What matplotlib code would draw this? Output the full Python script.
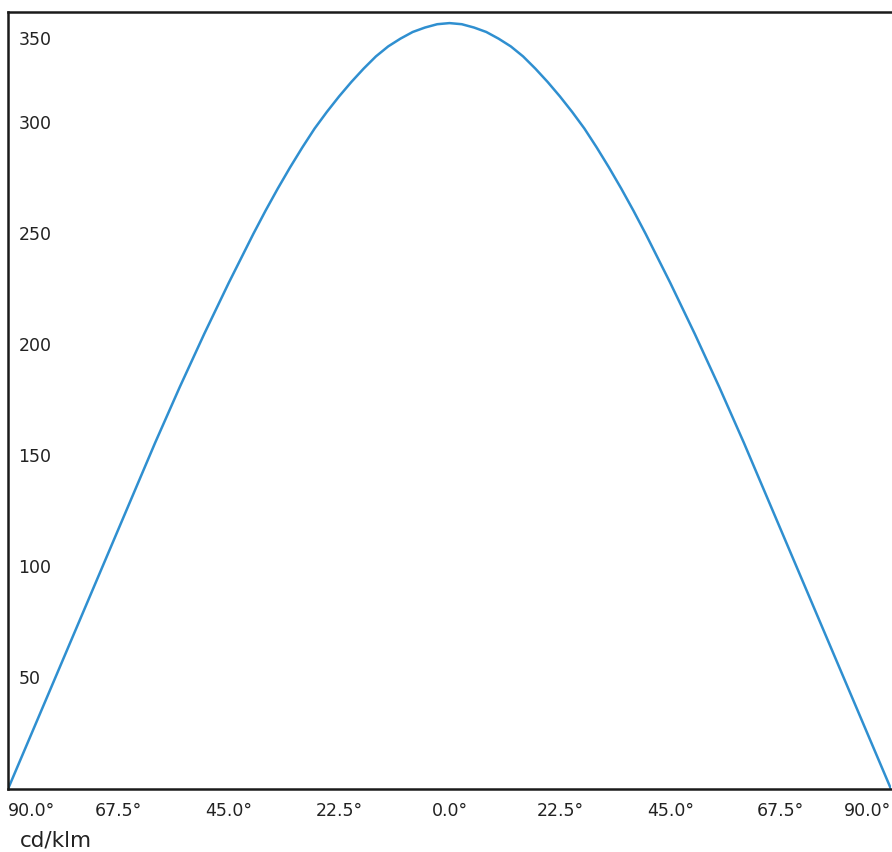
import matplotlib
matplotlib.use("Agg")
import matplotlib.pyplot as plt
from matplotlib import transforms

# luminous intensity every 2.5 deg, symmetric about 0 deg
half_angles = [90, 87.5, 85, 82.5, 80, 77.5, 75, 72.5, 70, 67.5, 65, 62.5, 60, 57.5, 55, 52.5,
               50, 47.5, 45, 42.5, 40, 37.5, 35, 32.5, 30, 27.5, 25, 22.5, 20, 17.5, 15, 12.5,
               10, 7.5, 5, 2.5]
half = [0, 13, 26, 39, 52, 65, 78, 91, 104, 117, 130, 143, 156, 168.5, 181, 193,
        205, 216.5, 228, 239, 250, 260.5, 270.5, 280, 289, 297.5, 305, 312, 318.5, 324.5, 330, 334.5,
        338, 341, 343, 344.5]
angles = [-a for a in half_angles] + [0] + half_angles[::-1]
intensity = half + [345] + half[::-1]

x_ticks = [-90, -67.5, -45, -22.5, 0, 22.5, 45, 67.5, 90]
x_labels = ["90.0°", "67.5°", "45.0°", "22.5°", "0.0°", "22.5°", "45.0°", "67.5°", "90.0°"]
y_ticks = [50, 100, 150, 200, 250, 300, 350]
unit_label = "cd/klm"

fig = plt.figure(figsize=(8.92, 8.53), dpi=100)
ax = fig.add_axes([8 / 892, 63 / 853, 883 / 892, 777 / 853])

ax.plot(angles, intensity, color="#2f8fd0", linewidth=1.8)
ax.set_xlim(-90, 90)
ax.set_ylim(0, 350)

ax.set_xticks(x_ticks)
ax.set_xticklabels(x_labels, fontsize=12.5, color="#222222")
ax.tick_params(axis="x", length=0, pad=9)
labels = ax.get_xticklabels()
labels[0].set_ha("left")
labels[-1].set_ha("right")

# y labels sit inside the plot area
ax.set_yticks([])
trans = transforms.blended_transform_factory(ax.transAxes, ax.transData)
for v in y_ticks:
    if v == 350:
        ax.annotate(str(v), xy=(0.012, v), xycoords=trans, xytext=(0, -27),
                    textcoords="offset pixels", ha="left", va="center",
                    fontsize=12.5, color="#222222")
    else:
        ax.text(0.012, v, str(v), transform=trans, ha="left", va="center",
                fontsize=12.5, color="#222222")

for side in ["left", "top", "bottom"]:
    ax.spines[side].set_linewidth(1.8)
    ax.spines[side].set_color("#1a1a1a")
ax.spines["right"].set_visible(False)

fig.text(20 / 892, 1 - 841 / 853, unit_label, fontsize=15.5, ha="left", va="center",
         color="#222222")

fig.savefig("out.png", dpi=100)
